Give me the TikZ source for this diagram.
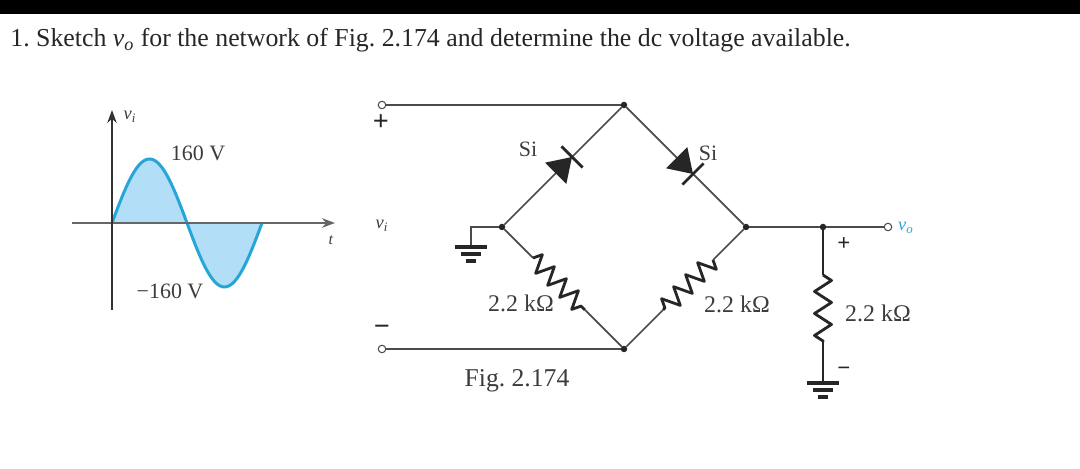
\documentclass[tikz,border=0pt]{standalone}
\usepackage{fontspec}
\setmainfont{Liberation Serif}
\usetikzlibrary{arrows.meta, positioning, decorations.pathmorphing}
\definecolor{wavefill}{RGB}{178,222,247}
\definecolor{waveline}{RGB}{38,165,215}
\definecolor{wiregray}{RGB}{75,75,75}
\definecolor{textgray}{RGB}{60,60,60}
\tikzset{
  wire/.style = {draw=wiregray, line width=1pt},
  dot/.style = {circle, fill=black!85, inner sep=0pt, outer sep=0pt, minimum size=0.13cm},
  terminal/.style = {circle, draw=wiregray, fill=white, line width=0.6pt, inner sep=0pt, outer sep=0pt, minimum size=0.15cm},
  lbl/.style = {text=textgray, inner sep=0pt, font=\fontsize{12.5}{14}\selectfont},
  ohms/.style = {lbl, font=\fontsize{13.6}{15}\selectfont},
  sign/.style = {text=black!85, inner sep=0pt, font=\bfseries\fontsize{16}{18}\selectfont},
  resistor/.style = {
    decoration = {zigzag, segment length=3.4mm, amplitude=1.8mm},
    decorate, draw=black!85, line width=1.6pt, line join=round
  },
  diode/.pic = {
    \fill[black!85] (0,0) -- (-23,15) -- (-23,-15) -- cycle;
    \draw[black!85, line width=1.6pt] (0,-15) -- (0,15);
  },
  ground/.pic = {
    \draw[black!85, line width=2pt] (-16,0) -- (16,0);
    \draw[black!85, line width=2.4pt] (-10,-7) -- (10,-7);
    \draw[black!85, line width=2.4pt] (-5,-14) -- (5,-14);
  }
}

\begin{document}
\frenchspacing
\begin{tikzpicture}[x=0.02cm, y=0.02cm]
  \useasboundingbox (0,0) rectangle (1080,469);

  % Top bar and question
  \fill[black] (0,455) rectangle (1080,469);
  \node[anchor=base west, inner sep=0pt, text=black!85, font=\fontsize{14.7}{17}\selectfont] (question) at (10,422)
    {1. Sketch \textit{v}\textsubscript{\textit{o}} for the network of Fig. 2.174 and determine the dc voltage available.};

  %% Input wave

  % Wave
  \fill[wavefill] plot[domain=0:360, samples=73] ({112+\x/2.4}, {246+64*sin(\x)}) -- cycle;
  \draw[waveline, line width=1.7pt] plot[domain=0:360, samples=73] ({112+\x/2.4}, {246+64*sin(\x)});

  % Axes
  \coordinate (tstart) at (72,246);
  \coordinate (tend) at (335,246);
  \coordinate (vstart) at (112,159);
  \coordinate (vend) at (112,359);
  \draw[-{Stealth[length=2.6mm, width=1.9mm]}, draw=black!60, line width=1.6pt] (tstart) -- (tend);
  \draw[-{Stealth[length=2.6mm, width=1.9mm]}, draw=black!80, line width=0.9pt] (vstart) -- (vend);

  \node[lbl, font=\fontsize{10.5}{12}\selectfont] (vilabel) at (130,352) {\textit{v}\textsubscript{\textit{i}}};
  \node[lbl, font=\fontsize{9}{11}\selectfont] (tlabel) at (331,229) {\textit{t}};
  \node[lbl] (peak) at (198,316) {160 V};
  \node[lbl] (trough) at (170,178) {−160 V};

  %% Bridge

  % Junctions
  \node[dot] (top) at (624,364) {};
  \node[dot] (left) at (502,242) {};
  \node[dot] (right) at (746,242) {};
  \node[dot] (bottom) at (624,120) {};
  \node[dot] (outdot) at (823,242) {};

  % Terminals
  \node[terminal] (inplus) at (382,364) {};
  \node[terminal] (inminus) at (382,120) {};
  \node[terminal] (out) at (888,242) {};

  % Wires
  \draw[wire] (inplus) -- (top);
  \draw[wire] (inminus) -- (bottom);
  \draw[wire] (top) -- (left);
  \draw[wire] (top) -- (right);
  \draw[wire, line width=1.3pt] (right) -- (outdot);
  \draw[wire, line width=1.3pt] (outdot) -- (out);

  % Diodes
  \coordinate (dleft) at (572,312);
  \coordinate (dright) at (693,295);
  \pic[rotate=45] at (dleft) {diode};
  \pic[rotate=-45] at (dright) {diode};

  % Resistors
  \coordinate (raleft) at (533,211);
  \coordinate (rbleft) at (585,159);
  \coordinate (raright) at (713,209);
  \coordinate (rbright) at (663,159);
  \coordinate (raout) at (823,194);
  \coordinate (rbout) at (823,127);
  \draw[wire] (left) -- (raleft);
  \draw[resistor] (raleft) -- (rbleft);
  \draw[wire] (rbleft) -- (bottom);
  \draw[wire] (right) -- (raright);
  \draw[resistor] (raright) -- (rbright);
  \draw[wire] (rbright) -- (bottom);
  \draw[wire, draw=black!85] (outdot) -- (raout);
  \draw[resistor, decoration={segment length=4.4mm, amplitude=1.7mm}] (raout) -- (rbout);

  % Grounds
  \coordinate (gndleft) at (471,222);
  \coordinate (gndout) at (823,86);
  \draw[wire] (left) -| (gndleft);
  \draw[wire, draw=black!85] (rbout) -- (gndout);
  \pic at (gndleft) {ground};
  \pic at (gndout) {ground};

  % Labels
  \node[sign] (plusin) at (381,346) {+};
  \node[sign] (minusin) at (382,139) {−};
  \node[sign, font=\bfseries\fontsize{13}{15}\selectfont] (plusout) at (844,225) {+};
  \node[sign, font=\bfseries\fontsize{13}{15}\selectfont] (minusout) at (844,98) {−};
  \node[lbl, font=\fontsize{10.5}{12}\selectfont] (vinput) at (382,243) {\textit{v}\textsubscript{\textit{i}}};
  \node[lbl, text=waveline, font=\fontsize{10.5}{12}\selectfont] (voutput) at (906,241) {\textit{v}\textsubscript{\textit{o}}};
  \node[lbl] (sileft) at (528,320) {Si};
  \node[lbl] (siright) at (708,316) {Si};
  \node[ohms] (rleft) at (521,166) {2.2 kΩ};
  \node[ohms] (rright) at (737,165) {2.2 kΩ};
  \node[ohms] (rout) at (878,156) {2.2 kΩ};
  \node[lbl, font=\fontsize{14.6}{17}\selectfont] (caption) at (517,88) {Fig. 2.174};

\end{tikzpicture}
\end{document}
